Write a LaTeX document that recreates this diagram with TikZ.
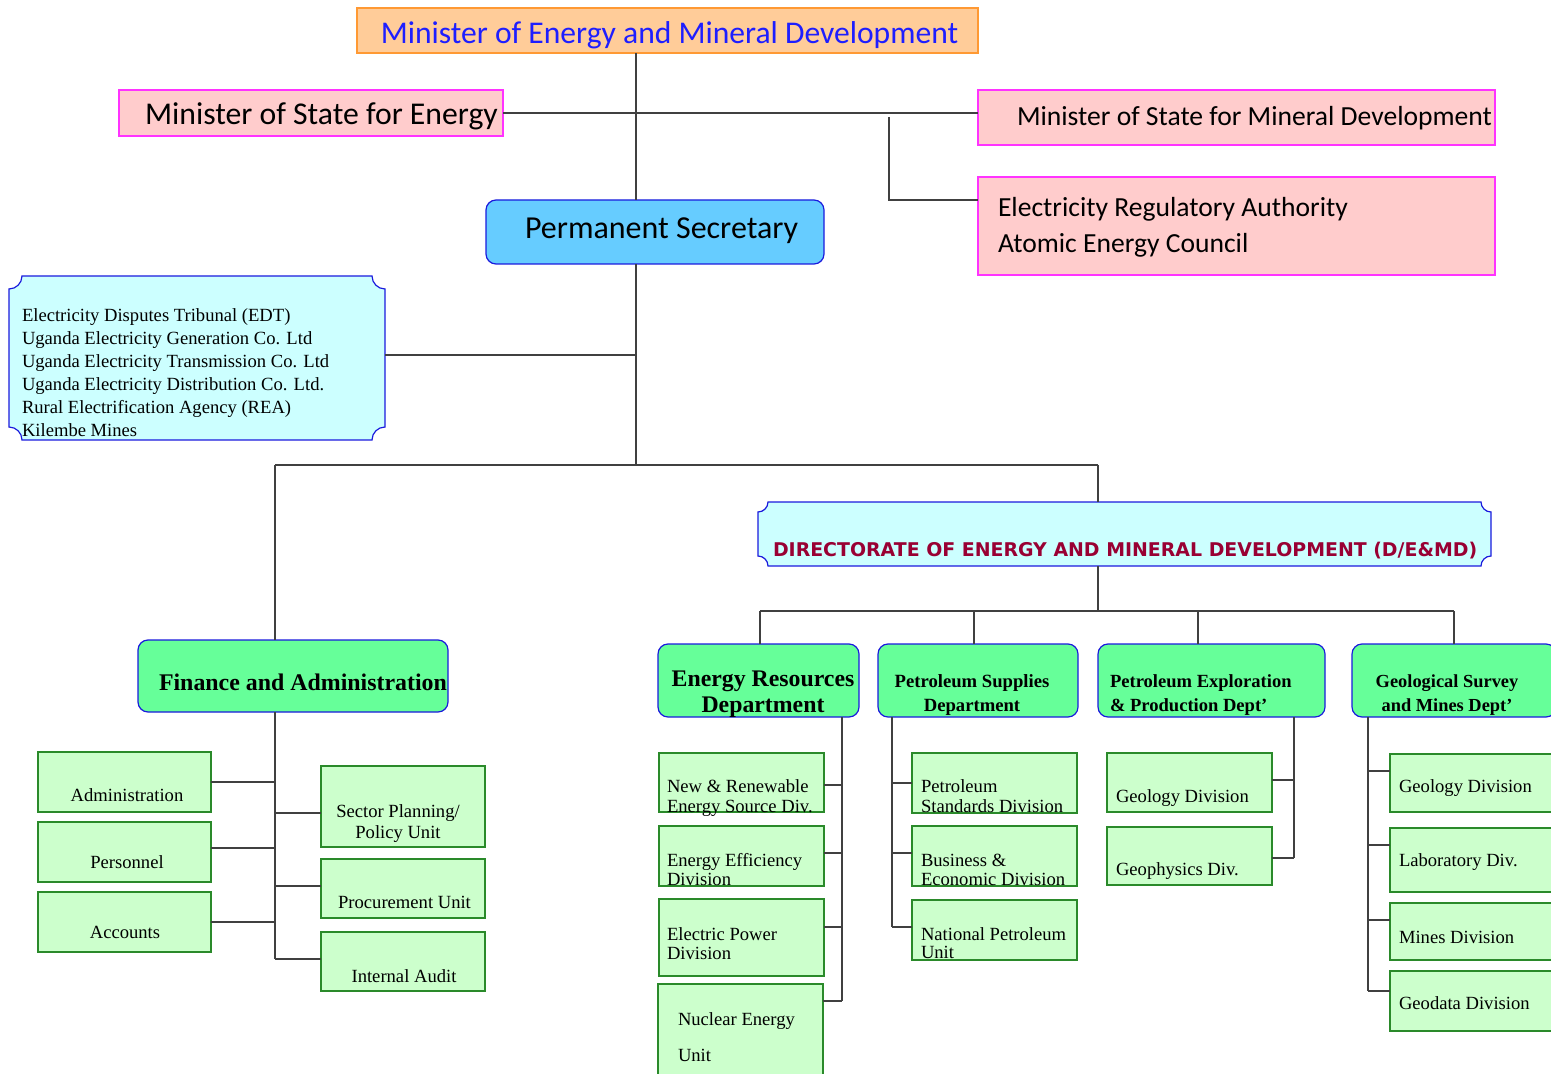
\documentclass[tikz,border=0pt]{standalone}
\usepackage{fontspec}
\setmainfont{Liberation Serif}
\newfontfamily\calib{Carlito}
\newfontfamily\dejab{DejaVu Sans}
\usetikzlibrary{fit,calc}
\definecolor{orfill}{HTML}{FFCC99}
\definecolor{ordraw}{HTML}{FF9933}
\definecolor{titleblue}{HTML}{1E1EFF}
\definecolor{pkfill}{HTML}{FFCCCC}
\definecolor{pkdraw}{HTML}{FF33FF}
\definecolor{psfill}{HTML}{66CCFF}
\definecolor{bldraw}{HTML}{1A1ADD}
\definecolor{cyfill}{HTML}{CCFFFF}
\definecolor{dpfill}{HTML}{66FF99}
\definecolor{sbfill}{HTML}{CCFFCC}
\definecolor{sbdraw}{HTML}{2A8A2A}
\definecolor{dirred}{HTML}{990033}
\definecolor{conn}{HTML}{404040}
\newcommand\fs[2]{\fontsize{#1}{#2}\selectfont}
\newcommand\ml[2]{\begin{tabular}[t]{@{}#1@{}}#2\end{tabular}}
\newcommand\scallop[5]{%
 \filldraw[fill=cyfill,draw=bldraw,line width=0.6pt]
 (#1+#5,#2) -- (#3-#5,#2)
 .. controls (#3-#5,#2+0.55*#5) and (#3-0.55*#5,#2+#5) .. (#3,#2+#5)
 -- (#3,#4-#5)
 .. controls (#3-0.55*#5,#4-#5) and (#3-#5,#4-0.55*#5) .. (#3-#5,#4)
 -- (#1+#5,#4)
 .. controls (#1+#5,#4-0.55*#5) and (#1+0.55*#5,#4-#5) .. (#1,#4-#5)
 -- (#1,#2+#5)
 .. controls (#1+0.55*#5,#2+#5) and (#1+#5,#2+0.55*#5) .. (#1+#5,#2) -- cycle;}
\begin{document}
\begin{tikzpicture}[x=0.5pt,y=-0.5pt,
 box/.style={inner sep=0pt,outer sep=0pt,rectangle},
 topbox/.style={box,draw=ordraw,fill=orfill,line width=0.6pt},
 pinkbox/.style={box,draw=pkdraw,fill=pkfill,line width=0.6pt},
 psbox/.style={box,draw=bldraw,fill=psfill,line width=0.6pt,rounded corners=5pt},
 deptbox/.style={box,draw=bldraw,fill=dpfill,line width=0.6pt,rounded corners=5pt},
 subbox/.style={box,draw=sbdraw,fill=sbfill,line width=0.7pt},
 ghost/.style={box},
 txt/.style={inner sep=0pt,outer sep=0pt,anchor=base west},
 ctxt/.style={inner sep=0pt,outer sep=0pt,anchor=base},
 sub/.style={font=\fs{9.3}{10}},
 link/.style={draw=conn,line width=0.6pt}
]
\useasboundingbox (0,0) rectangle (1551,1074);
\clip (0,0) rectangle (1551,1074);

% ---- top level
\node[topbox,fit={(357,8)(978,53)}] (top) {};
\node[ctxt,font=\calib\fs{15.8}{18},text=titleblue] (topT) at (669.5,44) {Minister of Energy and Mineral Development};
\node[pinkbox,fit={(119,90)(503,136)}] (mse) {};
\node[txt,font=\calib\fs{15.85}{18}] (mseT) at (145,125) {Minister of State for Energy};
\node[pinkbox,fit={(978,90)(1495,145)}] (msm) {};
\node[txt,font=\calib\fs{13.8}{16}] (msmT) at (1017,126) {Minister of State for Mineral Development};
\node[pinkbox,fit={(978,177)(1495,275)}] (era) {};
\node[txt,font=\calib\fs{13.8}{18}] (eraT) at (998,217) {\ml{l}{Electricity Regulatory Authority\\Atomic Energy Council}};
\node[psbox,fit={(486,200)(824,264)}] (ps) {};
\node[txt,font=\calib\fs{16}{18}] (psT) at (525,239) {Permanent Secretary};

% ---- agencies box
\scallop{9}{276}{385}{440}{13}
\node[ghost,fit={(9,276)(385,440)}] (agc) {};
\node[txt,font=\fs{9.3}{11.45}] (agcT) at (22,322) {\ml{l}{Electricity Disputes Tribunal (EDT)\\Uganda Electricity Generation Co. Ltd\\Uganda Electricity Transmission Co. Ltd\\Uganda Electricity Distribution Co. Ltd.\\Rural Electrification Agency (REA)\\Kilembe Mines}};

% ---- directorate
\scallop{758}{502}{1491}{566}{10}
\node[ghost,fit={(758,502)(1491,566)}] (dir) {};
\node[txt,font=\dejab\bfseries\fs{9.46}{11},text=dirred] (dirT) at (773,556) {DIRECTORATE OF ENERGY AND MINERAL DEVELOPMENT (D/E\&MD)};

% ---- departments
\node[deptbox,fit={(138,640)(448,712)}] (fin) {};
\node[txt,font=\bfseries\fs{11.94}{13}] (finT) at (159,690) {Finance and Administration};
\node[deptbox,fit={(658,644)(859,717)}] (erd) {};
\node[ctxt,font=\bfseries\fs{11.9}{13}] (erdT) at (763,686) {\ml{c}{Energy Resources\\Department}};
\node[deptbox,fit={(878,644)(1078,717)}] (psd) {};
\node[ctxt,font=\bfseries\fs{9.33}{12}] (psdT) at (972,687) {\ml{c}{Petroleum Supplies\\Department}};
\node[deptbox,fit={(1098,644)(1325,717)}] (pep) {};
\node[txt,font=\bfseries\fs{9.28}{12}] (pepT) at (1110,687) {\ml{l}{Petroleum Exploration\\\& Production Dept’}};
\node[deptbox,fit={(1352,644)(1556,717)}] (gsm) {};
\node[ctxt,font=\bfseries\fs{9.2}{12}] (gsmT) at (1447,687) {\ml{c}{Geological Survey\\and Mines Dept’}};

% ---- finance units
\node[subbox,fit={(38,752)(211,812)}] (adm) {};
\node[ctxt,sub] (admT) at (127,801) {Administration};
\node[subbox,fit={(38,822)(211,882)}] (per) {};
\node[ctxt,sub] (perT) at (127,868) {Personnel};
\node[subbox,fit={(38,892)(211,952)}] (acc) {};
\node[ctxt,sub] (accT) at (125,938) {Accounts};
\node[subbox,fit={(321,766)(485,847)}] (spu) {};
\node[ctxt,font=\fs{9.3}{10.5}] (spuT) at (398,817) {\ml{c}{Sector Planning/\\Policy Unit}};
\node[subbox,fit={(321,859)(485,918)}] (pro) {};
\node[ctxt,sub] (proT) at (404.5,908) {Procurement Unit};
\node[subbox,fit={(321,932)(485,991)}] (ia) {};
\node[ctxt,sub] (iaT) at (404,982) {Internal Audit};

% ---- energy resources units
\node[subbox,fit={(659,753)(824,812)}] (nre) {};
\node[txt,sub] (nreT) at (667,792) {\ml{l}{New \& Renewable\\Energy Source Div.}};
\node[subbox,fit={(659,826)(824,886)}] (ee) {};
\node[txt,font=\fs{9.3}{9.5}] (eeT) at (667,866) {\ml{l}{Energy Efficiency\\Division}};
\node[subbox,fit={(659,899)(824,976)}] (ep) {};
\node[txt,font=\fs{9.3}{9.5}] (epT) at (667,940) {\ml{l}{Electric Power\\Division}};
\node[subbox,fit={(658,984)(823,1090)}] (nuc) {};
\node[txt,font=\fs{9.3}{18}] (nucT) at (678,1025) {\ml{l}{Nuclear Energy\\Unit}};

% ---- petroleum supplies units
\node[subbox,fit={(912,753)(1077,813)}] (psn) {};
\node[txt,sub] (psnT) at (921,792) {\ml{l}{Petroleum\\Standards Division}};
\node[subbox,fit={(912,826)(1077,886)}] (bed) {};
\node[txt,font=\fs{9.3}{9.5}] (bedT) at (921,866) {\ml{l}{Business \&\\Economic Division}};
\node[subbox,fit={(912,900)(1077,960)}] (npu) {};
\node[txt,font=\fs{9.3}{9.2}] (npuT) at (921,940) {\ml{l}{National Petroleum\\Unit}};

% ---- petroleum exploration units
\node[subbox,fit={(1107,753)(1272,812)}] (geo1) {};
\node[txt,sub] (geo1T) at (1116,802) {Geology Division};
\node[subbox,fit={(1107,827)(1272,885)}] (gph) {};
\node[txt,sub] (gphT) at (1116,875) {Geophysics Div.};

% ---- geological survey units
\node[subbox,fit={(1390,754)(1556,812)}] (geo2) {};
\node[txt,sub] (geo2T) at (1399,792) {Geology Division};
\node[subbox,fit={(1390,828)(1556,892)}] (lab) {};
\node[txt,sub] (labT) at (1399,866) {Laboratory Div.};
\node[subbox,fit={(1390,903)(1556,960)}] (min) {};
\node[txt,sub] (minT) at (1399,943) {Mines Division};
\node[subbox,fit={(1390,971)(1556,1031)}] (gda) {};
\node[txt,sub] (gdaT) at (1399,1009) {Geodata Division};

% ---- connectors, top
\coordinate (sx) at (636,0);
\draw[link] (sx |- top.south) -- (sx |- ps.north);
\draw[link] (mse.east) -- (mse.east -| msm.west);
\coordinate (bx) at (889,117);
\draw[link] (bx) |- ($(era.north west)+(0,23)$);
\coordinate (b1) at (636,465);
\draw[link] (sx |- ps.south) -- (b1);
\draw[link] ($(agc.east)+(0,-3)$) -- ($(agc.east -| sx)+(0,-3)$);
\coordinate (fx) at (275,465);
\coordinate (dx) at (1098,465);
\draw[link] (fx) -- (dx);
\draw[link] (fx) -- (fx |- fin.north);
\draw[link] (dx) -- (dx |- dir.north);
\coordinate (b2l) at (760,611);
\coordinate (b2r) at (1454,611);
\coordinate (d2) at (974,611);
\coordinate (d3) at (1198,611);
\draw[link] (dx |- dir.south) -- (dx |- b2l);
\draw[link] (b2l) -- (b2r);
\draw[link] (b2l) -- (b2l |- erd.north);
\draw[link] (d2) -- (d2 |- psd.north);
\draw[link] (d3) -- (d3 |- pep.north);
\draw[link] (b2r) -- (b2r |- gsm.north);

% ---- finance connectors
\coordinate (fv) at (275,0);
\coordinate (spuC) at ($(spu.west)+(0,6.5)$);
\coordinate (iaC) at ($(ia.north west)+(0,27)$);
\draw[link] (fv |- fin.south) -- (fv |- iaC);
\draw[link] (adm.east) -- (adm.east -| fv);
\draw[link] ($(per.east)+(0,-4)$) -- ($(per.east -| fv)+(0,-4)$);
\draw[link] (acc.east) -- (acc.east -| fv);
\draw[link] (spuC) -- (spuC -| fv);
\draw[link] ($(pro.west)+(0,-2.5)$) -- ($(pro.west -| fv)+(0,-2.5)$);
\draw[link] (iaC) -- (iaC -| fv);

% ---- energy resources connectors
\coordinate (ev) at (842,0);
\coordinate (nucC) at ($(nuc.north east)+(0,17)$);
\coordinate (epC) at ($(ep.north east)+(0,28)$);
\draw[link] (ev |- erd.south) -- (ev |- nucC);
\draw[link] ($(nre.east)+(0,2.5)$) -- ($(nre.east -| ev)+(0,2.5)$);
\draw[link] ($(ee.east)+(0,-3)$) -- ($(ee.east -| ev)+(0,-3)$);
\draw[link] (epC) -- (epC -| ev);
\draw[link] (nucC) -- (nucC -| ev);

% ---- petroleum supplies connectors
\coordinate (pv) at (892,0);
\draw[link] (pv |- psd.south) -- ($(pv |- npu.west)+(0,-3)$);
\draw[link] (psn.west) -- (psn.west -| pv);
\draw[link] ($(bed.west)+(0,-3)$) -- ($(bed.west -| pv)+(0,-3)$);
\draw[link] ($(npu.west)+(0,-3)$) -- ($(npu.west -| pv)+(0,-3)$);

% ---- petroleum exploration connectors
\coordinate (qv) at (1294,0);
\draw[link] (qv |- pep.south) -- ($(qv |- gph.east)+(0,2)$);
\draw[link] ($(geo1.east)+(0,-2.5)$) -- ($(geo1.east -| qv)+(0,-2.5)$);
\draw[link] ($(gph.east)+(0,2)$) -- ($(gph.east -| qv)+(0,2)$);

% ---- geological survey connectors
\coordinate (gv) at (1368,0);
\coordinate (geo2C) at ($(geo2.north west)+(0,17)$);
\coordinate (labC) at ($(lab.north west)+(0,17)$);
\coordinate (minC) at ($(min.north west)+(0,17)$);
\coordinate (gdaC) at ($(gda.north west)+(0,20)$);
\draw[link] (gv |- gsm.south) -- (gv |- gdaC);
\draw[link] (geo2C) -- (geo2C -| gv);
\draw[link] (labC) -- (labC -| gv);
\draw[link] (minC) -- (minC -| gv);
\draw[link] (gdaC) -- (gdaC -| gv);
\end{tikzpicture}
\end{document}
